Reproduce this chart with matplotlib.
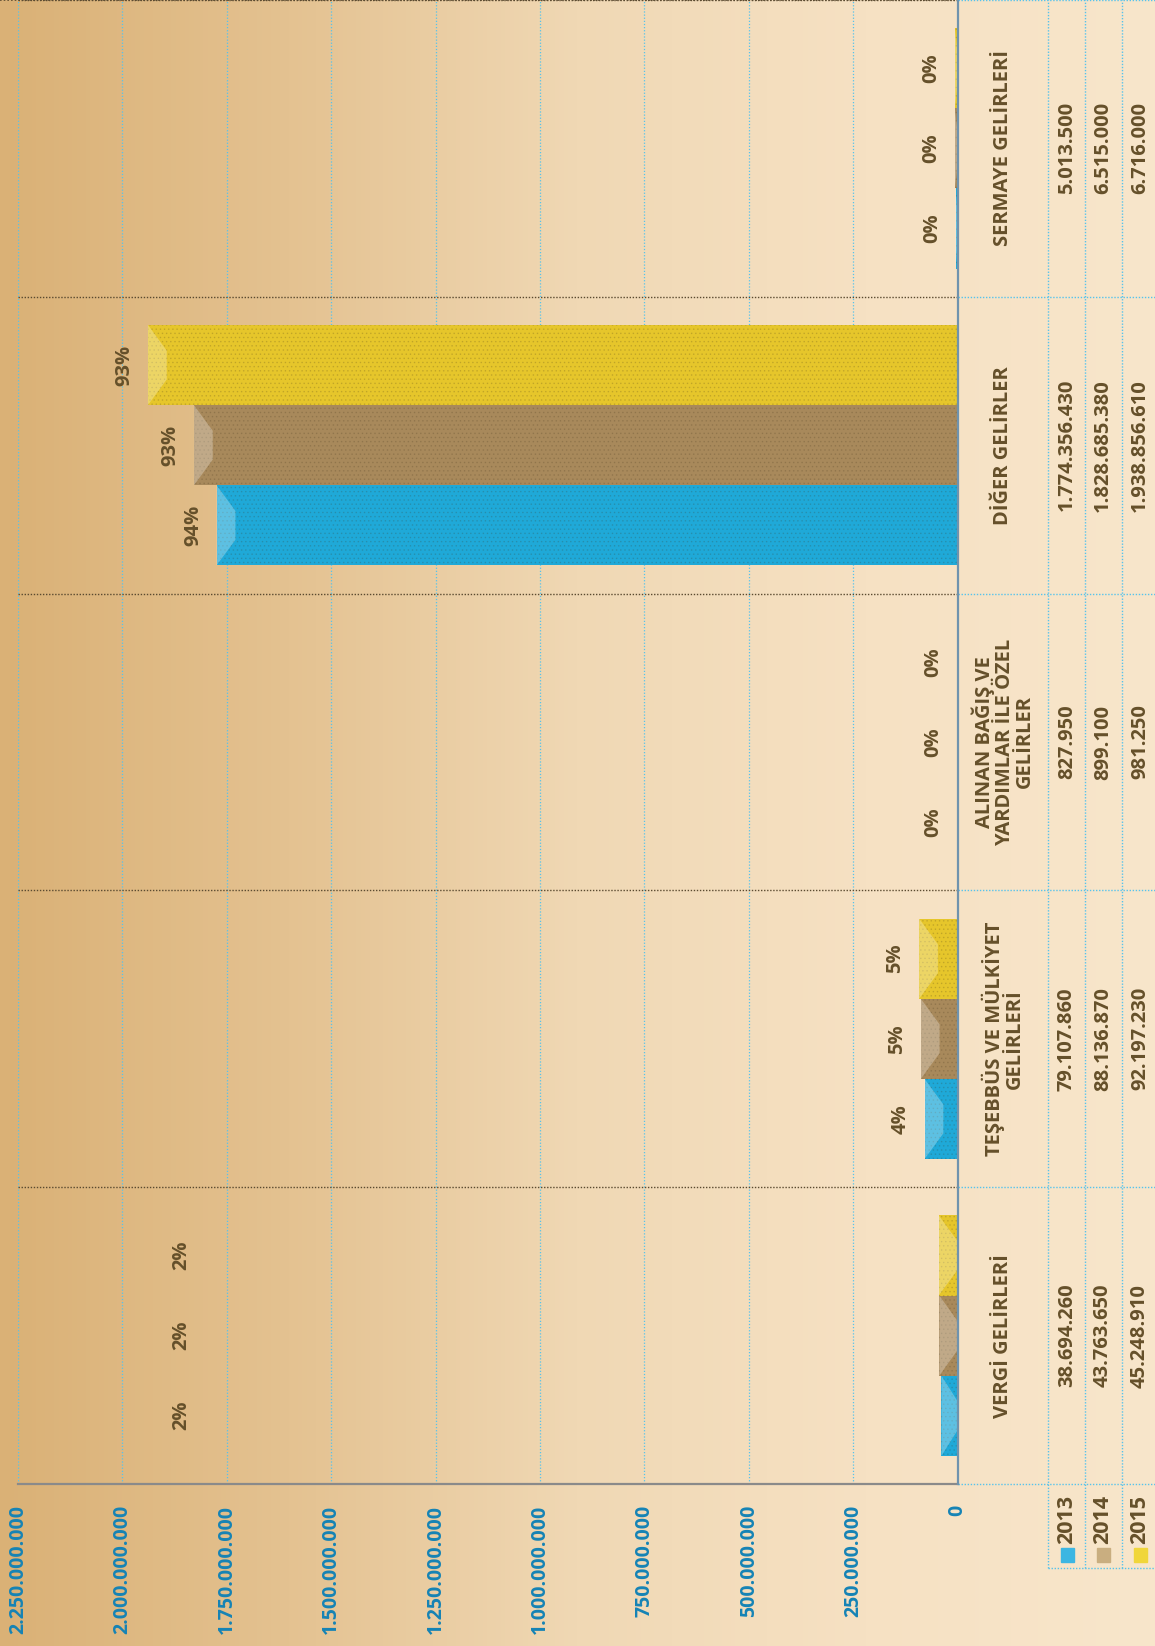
import numpy as np
import matplotlib.pyplot as plt
from matplotlib.colors import LinearSegmentedColormap
from matplotlib.transforms import blended_transform_factory

# data
categories = [
    "VERGİ GELİRLERİ",
    "TEŞEBBÜS VE MÜLKİYET\nGELİRLERİ",
    "ALINAN BAĞIŞ VE\nYARDIMLAR İLE ÖZEL\nGELİRLER",
    "DİĞER GELİRLER",
    "SERMAYE GELİRLERİ",
]
years = ["2013", "2014", "2015"]
v2013 = [38694260, 79107860, 827950, 1774356430, 5013500]
v2014 = [43763650, 88136870, 899100, 1828685380, 6515000]
v2015 = [45248910, 92197230, 981250, 1938856610, 6716000]
pct2013 = ["2%", "4%", "0%", "94%", "0%"]
pct2014 = ["2%", "5%", "0%", "93%", "0%"]
pct2015 = ["2%", "5%", "0%", "93%", "0%"]
tick_values = np.arange(0, 2.25e9 + 1, 2.5e8)

# styling
W, H = 1155, 1646
BAR_COLORS = ["#1FA9D8", "#A8895B", "#E6C62B"]
LEGEND_COLORS = ["#3CB6E2", "#C9AE80", "#F0D63A"]
TEXT_COLOR = "#65502A"
TICK_COLOR = "#1583B5"
GRID_BLUE = "#56C3EC"
FS = 14.5
BAR_H = 0.27
BEVEL = 4.5e7            # light end cap of each bar, in data units
VERGI_LABEL_X = 1.86e9   # the 2% labels of the first group sit far from the bars

plt.rcParams["font.family"] = ["Open Sans", "DejaVu Sans"]
plt.rcParams["font.weight"] = "bold"
plt.rcParams["hatch.linewidth"] = 0.6

fig = plt.figure(figsize=(W / 100, H / 100), dpi=100)

# background gradient
bg = fig.add_axes([0, 0, 1, 1], zorder=-5)
cmap = LinearSegmentedColormap.from_list(
    "bg", ["#DAB176", "#E4C291", "#F0D8B4", "#F6E1C3", "#F8E6CB"])
bg.imshow(np.linspace(0, 1, 256)[None, :], aspect="auto", cmap=cmap,
          extent=[0, 1, 0, 1])
bg.set_axis_off()

left, right, bottom = 18 / W, 957.6 / W, 1 - 1484 / H
ax = fig.add_axes([left, bottom, right - left, 1 - bottom])
ax.set_facecolor("none")
ax.set_xlim(2.25e9, 0)
ax.set_ylim(-0.5, len(categories) - 0.5)

y = np.arange(len(categories))
series = [v2013, v2014, v2015]
pcts = [pct2013, pct2014, pct2015]
for k, (vals, col) in enumerate(zip(series, BAR_COLORS)):
    pos = y + (k - 1) * BAR_H
    vals = np.array(vals, dtype=float)
    ax.barh(pos, vals, height=BAR_H, color=col, edgecolor="none", zorder=3)
    ax.barh(pos, vals, height=BAR_H, fill=False, hatch="....",
            edgecolor=(0.25, 0.2, 0.1, 0.16), linewidth=0, zorder=4)
    # bevelled end face of each bar
    for v, p in zip(vals, pos):
        cap = min(v, BEVEL)
        inset = 0.32 * BAR_H
        ax.fill([v, v, v - cap, v - cap],
                [p - BAR_H / 2, p + BAR_H / 2, p + BAR_H / 2 - inset,
                 p - BAR_H / 2 + inset],
                color="white", alpha=0.28, lw=0, zorder=4.5)
    for i, (v, p) in enumerate(zip(vals, pcts[k])):
        if i == 0:
            ax.text(VERGI_LABEL_X, pos[i], p, rotation=90, ha="center",
                    va="center", color=TEXT_COLOR, fontsize=FS, zorder=5)
        else:
            ax.annotate(p, (v, pos[i]), xytext=(-17, 0),
                        textcoords="offset points", rotation=90,
                        ha="center", va="center", color=TEXT_COLOR,
                        fontsize=FS, zorder=5)

# grid and separators
for t in tick_values[1:]:
    ax.axvline(t, color=GRID_BLUE, lw=0.9, ls=(0, (1, 1.5)), zorder=1)
for b in np.arange(0.5, len(categories), 1.0):
    ax.axhline(b, color="#5A4A30", lw=1.0, ls=(0, (1, 1.2)), zorder=2)

for s in ["top", "left"]:
    ax.spines[s].set_visible(False)
ax.spines["bottom"].set_color("#8A8A8A")
ax.spines["bottom"].set_linewidth(1.6)
ax.spines["right"].set_color("#6F93AE")
ax.spines["right"].set_linewidth(1.6)
ax.spines["right"].set_zorder(6)

ax.set_yticks([])
ax.set_xticks(tick_values)
ax.set_xticklabels([f"{int(t):,}".replace(",", ".") for t in tick_values],
                   rotation=90, color=TICK_COLOR, fontsize=FS - 0.5)
ax.tick_params(axis="x", length=0, pad=15)

# data table on the right side
tr = blended_transform_factory(fig.transFigure, ax.transData)
col_cat = 1003 / W
col_vals = [1067 / W, 1103 / W, 1140 / W]
col_lines = [1048 / W, 1085 / W, 1122 / W]

for i, cat in enumerate(categories):
    ax.text(col_cat, i, cat, transform=tr, rotation=90, ha="center",
            va="center", multialignment="center", color=TEXT_COLOR,
            fontsize=FS, linespacing=1.0)
    for k, vals in enumerate(series):
        ax.text(col_vals[k], i, f"{vals[i]:,}".replace(",", "."),
                transform=tr, rotation=90, ha="center", va="center",
                color=TEXT_COLOR, fontsize=FS)

for b in np.arange(-0.5, len(categories), 1.0):
    ax.plot([right, 1], [b, b], transform=tr, color=GRID_BLUE, lw=1.0,
            ls=(0, (1, 1.2)), clip_on=False)
ax.plot([0, right], [len(categories) - 0.5] * 2, transform=tr,
        color="#5A4A30", lw=1.2, ls=(0, (1, 1.2)), clip_on=False)

# legend row under the table
leg_bottom = 1 - 1568 / H
for xl in col_lines:
    fig.add_artist(plt.Line2D([xl, xl], [leg_bottom, 1], color=GRID_BLUE,
                              lw=1.0, ls=(0, (1, 1.2))))
fig.add_artist(plt.Line2D([col_lines[0], 1], [leg_bottom, leg_bottom],
                          color=GRID_BLUE, lw=1.0, ls=(0, (1, 1.2))))
for k, yr in enumerate(years):
    fig.text(col_vals[k], 1 - 1495 / H, yr, rotation=90, ha="center",
             va="top", color=TEXT_COLOR, fontsize=FS + 1)
    fig.add_artist(plt.Rectangle((col_vals[k] - 6.5 / W, 1 - 1562 / H),
                                 13 / W, 14 / H, color=LEGEND_COLORS[k],
                                 transform=fig.transFigure))

fig.savefig("out.png", dpi=100)
